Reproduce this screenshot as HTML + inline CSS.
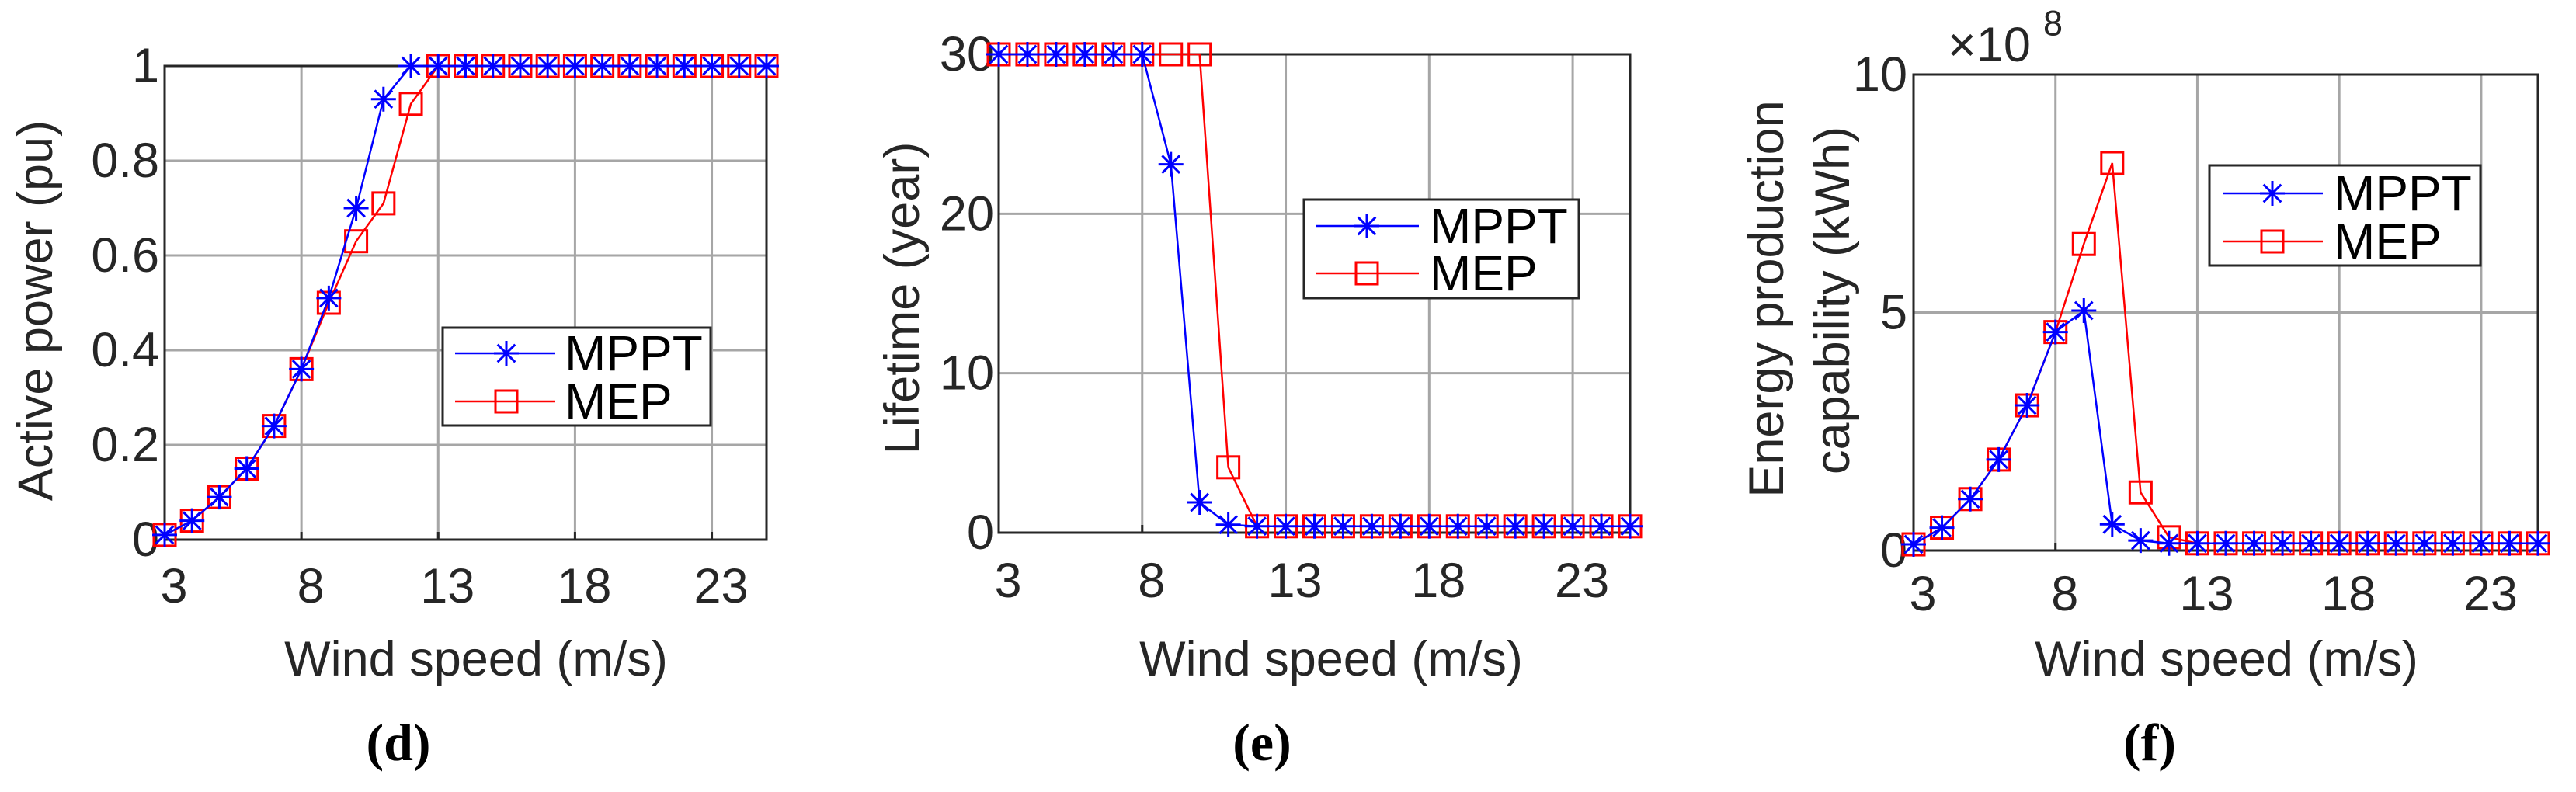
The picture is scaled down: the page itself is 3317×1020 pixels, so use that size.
<!DOCTYPE html>
<html><head><meta charset="utf-8"><style>
html,body{margin:0;padding:0;background:#fff;}
svg{display:block;font-family:"Liberation Sans",Arial,sans-serif;}
</style></head><body>
<svg id="fig" width="3317" height="1020" viewBox="0 0 3317 1020" xmlns="http://www.w3.org/2000/svg"></svg>
<script>
const windSpeed = [3,4,5,6,7,8,9,10,11,12,13,14,15,16,17,18,19,20,21,22,23,24,25];
const xTicks = [3,8,13,18,23];
const powerMPPT = [0.01,0.04,0.09,0.15,0.24,0.36,0.51,0.70,0.93,1,1,1,1,1,1,1,1,1,1,1,1,1,1];
const powerMEP  = [0.01,0.04,0.09,0.15,0.24,0.36,0.50,0.63,0.71,0.92,1,1,1,1,1,1,1,1,1,1,1,1,1];
const powerTicks = [0,0.2,0.4,0.6,0.8,1];
const powerTickLabels = ["0","0.2","0.4","0.6","0.8","1"];
const lifeMPPT = [30,30,30,30,30,30,23.1,1.9,0.5,0.4,0.4,0.4,0.4,0.4,0.4,0.4,0.4,0.4,0.4,0.4,0.4,0.4,0.4];
const lifeMEP  = [30,30,30,30,30,30,30,30,4.1,0.4,0.4,0.4,0.4,0.4,0.4,0.4,0.4,0.4,0.4,0.4,0.4,0.4,0.4];
const lifeTicks = [0,10,20,30];
const lifeTickLabels = ["0","10","20","30"];
const energyMPPT = [0.13,0.48,1.08,1.91,3.05,4.59,5.04,0.55,0.21,0.15,0.15,0.15,0.15,0.15,0.15,0.15,0.15,0.15,0.15,0.15,0.15,0.15,0.15];
const energyMEP  = [0.13,0.48,1.08,1.91,3.05,4.59,6.44,8.14,1.22,0.28,0.15,0.15,0.15,0.15,0.15,0.15,0.15,0.15,0.15,0.15,0.15,0.15,0.15];
const energyTicks = [0,5,10];
const energyTickLabels = ["0","5","10"];

const NS="http://www.w3.org/2000/svg";
const svg=document.getElementById('fig');
function mk(tag,attrs,parent){const e=document.createElementNS(NS,tag);for(const k in attrs)e.setAttribute(k,attrs[k]);(parent||svg).appendChild(e);return e;}
function txt(str,attrs,parent){const e=mk('text',attrs,parent);e.textContent=str;return e;}

function star(g,x,y,c){const r=16,d=11.3;
  const p=mk('path',{d:`M${x-r},${y}H${x+r}M${x},${y-r}V${y+r}M${x-d},${y-d}L${x+d},${y+d}M${x-d},${y+d}L${x+d},${y-d}`,stroke:c,'stroke-width':3,fill:'none'},g);return p;}
function sq(g,x,y,c){return mk('rect',{x:x-14,y:y-14,width:28,height:28,stroke:c,'stroke-width':3,fill:'none'},g);}

function panel(cfg){
  const g=mk('g',{});
  
  
  const {L,R,T,B,xmin,xmax,ymin,ymax}=cfg;
  const sx=v=>L+(v-xmin)/(xmax-xmin)*(R-L);
  const sy=v=>B-(v-ymin)/(ymax-ymin)*(B-T);
  // grid
  xTicks.forEach(t=>{const l=mk('line',{x1:sx(t),x2:sx(t),y1:T,y2:B,stroke:'#a6a6a6','stroke-width':3},g);
    });
  cfg.yTicks.forEach(t=>{const l=mk('line',{x1:L,x2:R,y1:sy(t),y2:sy(t),stroke:'#a6a6a6','stroke-width':3},g);
    });
  const box=mk('rect',{x:L,y:T,width:R-L,height:B-T,fill:'none',stroke:'#262626','stroke-width':3},g);
  
  xTicks.forEach(t=>{mk('line',{x1:sx(t),x2:sx(t),y1:B,y2:B-10,stroke:'#262626','stroke-width':3},g);});
  // tick labels
  xTicks.forEach(t=>{const e=txt(String(t),{x:sx(t)+12,y:cfg.xTickY,'font-size':63,fill:'#262626','text-anchor':'middle','dominant-baseline':'central'},g);
    });
  cfg.yTicks.forEach((t,i)=>{const e=txt(cfg.yLabels[i],{x:cfg.yTickX,y:sy(t),'font-size':63,fill:'#262626','text-anchor':'end','dominant-baseline':'central'},g);
    });
  // series
  const pts=a=>a.map((v,i)=>sx(windSpeed[i])+','+sy(v)).join(' ');
  const lm=mk('polyline',{points:pts(cfg.mep),fill:'none',stroke:'#ff0000','stroke-width':2.5},g);
  
  cfg.mep.forEach((v,i)=>{const m=sq(g,sx(windSpeed[i]),sy(v),'#ff0000');
    });
  const lp=mk('polyline',{points:pts(cfg.mppt),fill:'none',stroke:'#0000ff','stroke-width':2.5},g);
  
  cfg.mppt.forEach((v,i)=>{const m=star(g,sx(windSpeed[i]),sy(v),'#0000ff');
    });
  // legend
  const lg=mk('g',{},g);
  
  const Lg=cfg.leg;
  mk('rect',{x:Lg.x1,y:Lg.y1,width:Lg.x2-Lg.x1,height:Lg.y2-Lg.y1,fill:'#fff',stroke:'#262626','stroke-width':3},lg);
  mk('line',{x1:Lg.l1,x2:Lg.l2,y1:Lg.r1,y2:Lg.r1,stroke:'#0000ff','stroke-width':2.5},lg);
  star(lg,Lg.m,Lg.r1,'#0000ff');
  const t1=txt('MPPT',{x:Lg.tx,y:Lg.r1,'font-size':64,fill:'#000','dominant-baseline':'central'},lg);
  
  mk('line',{x1:Lg.l1,x2:Lg.l2,y1:Lg.r2,y2:Lg.r2,stroke:'#ff0000','stroke-width':2.5},lg);
  sq(lg,Lg.m,Lg.r2,'#ff0000');
  const t2=txt('MEP',{x:Lg.tx,y:Lg.r2,'font-size':64,fill:'#000','dominant-baseline':'central'},lg);
  
  // axis labels
  const xl=txt('Wind speed (m/s)',{x:cfg.xlx,y:849,'font-size':63,fill:'#262626','text-anchor':'middle','dominant-baseline':'central'},g);
  
  cfg.ylab.forEach(yl=>{const e=txt(yl.t,{x:0,y:0,'font-size':63,fill:'#262626','text-anchor':'middle','dominant-baseline':'central',transform:`translate(${yl.x},${yl.y}) rotate(-90)`},g);
    });
  const cap=txt(cfg.cap,{x:cfg.capx,y:956,'font-size':68,'font-weight':'bold','font-family':'"Liberation Serif",serif',fill:'#000','text-anchor':'middle','dominant-baseline':'central'},g);
  
  return g;
}

panel({name:'panel-d-active-power',L:212,R:987,T:85,B:695,xmin:3,xmax:25,ymin:0,ymax:1,
  yTicks:powerTicks,yLabels:powerTickLabels,yTickX:205,xTickY:755,mppt:powerMPPT,mep:powerMEP,
  leg:{x1:570,x2:915,y1:422,y2:548,r1:455,r2:517,l1:586,l2:715,m:652,tx:727},
  xlx:613,ylab:[{t:'Active power (pu)',x:46,y:400}],cap:'(d)',capx:513});
panel({name:'panel-e-lifetime',L:1286,R:2099,T:70,B:686,xmin:3,xmax:25,ymin:0,ymax:30,
  yTicks:lifeTicks,yLabels:lifeTickLabels,yTickX:1280,xTickY:748,mppt:lifeMPPT,mep:lifeMEP,
  leg:{x1:1679,x2:2033,y1:257,y2:384,r1:291,r2:352,l1:1695,l2:1827,m:1760,tx:1841},
  xlx:1714,ylab:[{t:'Lifetime (year)',x:1162,y:384}],cap:'(e)',capx:1625});
panel({name:'panel-f-energy',L:2464,R:3268,T:96,B:709,xmin:3,xmax:25,ymin:0,ymax:10,
  yTicks:energyTicks,yLabels:energyTickLabels,yTickX:2456,xTickY:765,mppt:energyMPPT,mep:energyMEP,
  leg:{x1:2845,x2:3194,y1:213,y2:342,r1:249,r2:311,l1:2862,l2:2991,m:2926,tx:3005},
  xlx:2867,ylab:[{t:'Energy production',x:2275,y:385},{t:'capability (kWh)',x:2360,y:387}],cap:'(f)',capx:2768});
const ex=txt('\u00d710',{x:2508,y:58,'font-size':63,fill:'#262626','dominant-baseline':'central'});


const ex8=txt('8',{x:2631,y:30,'font-size':45,fill:'#262626','dominant-baseline':'central'});


</script>
</body></html>
